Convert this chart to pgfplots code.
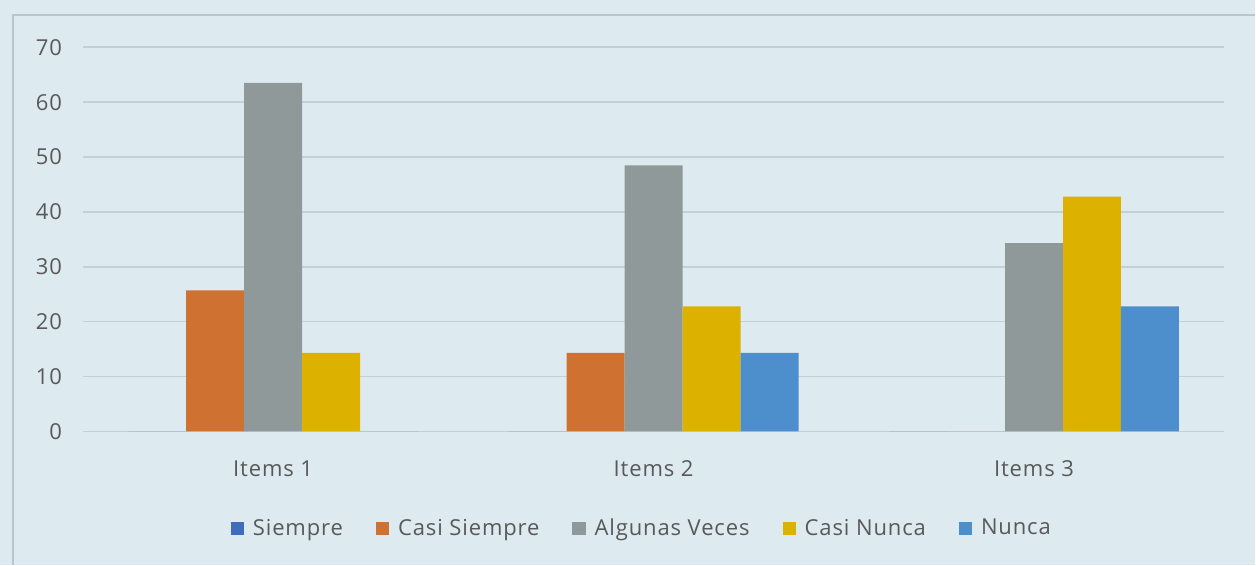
\documentclass[border=0pt]{standalone}
\usepackage{fontspec}
\setmainfont{Open Sans}[LetterSpace=4]
\usepackage{pgfplots}
\pgfplotsset{compat=1.18}

\definecolor{bgc}{HTML}{DDEAF0}
\definecolor{framec}{HTML}{B9C6CC}
\definecolor{gridc}{HTML}{C3D0D7}
\definecolor{txt}{HTML}{595959}
\definecolor{csiempre}{HTML}{3F6CBD}
\definecolor{ccasisiempre}{HTML}{CF7130}
\definecolor{calgunas}{HTML}{8F999A}
\definecolor{ccasinunca}{HTML}{DDB100}
\definecolor{cnunca}{HTML}{4D8FCC}

\begin{document}
\begin{tikzpicture}[x=0.5pt,y=0.5pt]
% background and frame (pixel units)
\fill[bgc] (0,0) rectangle (1256,565);
\draw[framec, line width=0.8pt] (13,0) -- (13,550) -- (1256,550);

\begin{axis}[
    at={(41.5pt,66.65pt)}, anchor=south west,
    scale only axis,
    width=571pt, height=192.2pt,
    ybar=0pt, bar width=29pt,
    xmin=-0.5, xmax=2.5,
    ymin=0, ymax=70,
    ytick={0,10,...,70},
    xtick=data,
    xticklabels={Items 1, Items 2, Items 3},
    major tick length=0pt,
    axis line style={draw=none},
    ymajorgrids,
    grid style={gridc, line width=0.8pt},
    /pgf/number format/assume math mode=true,
    tick label style={font=\fontsize{11}{13}\selectfont, text=txt},
    yticklabel style={xshift=-7pt},
    xticklabel style={yshift=-11pt},
    legend style={at={(0.4905,-0.253)}, anchor=center, draw=none, fill=none,
        font=\fontsize{11}{13}\selectfont, text=txt,
        legend columns=-1,
        /tikz/every odd column/.append style={column sep=2.5pt},
        /tikz/every even column/.append style={column sep=14.5pt}},
    legend image code/.code={\fill[#1] (0pt,-3.3pt) rectangle (6.6pt,3.3pt);},
    every axis plot/.append style={draw=none},
]
\addplot[fill=csiempre] coordinates {(0,0) (1,0) (2,0)};
\addlegendentry{Siempre}
\addplot[fill=ccasisiempre] coordinates {(0,25.7) (1,14.3) (2,0)};
\addlegendentry{Casi Siempre}
\addplot[fill=calgunas] coordinates {(0,63.5) (1,48.5) (2,34.3)};
\addlegendentry{Algunas Veces}
\addplot[fill=ccasinunca] coordinates {(0,14.3) (1,22.8) (2,42.8)};
\addlegendentry{Casi Nunca}
\addplot[fill=cnunca] coordinates {(0,0) (1,14.3) (2,22.8)};
\addlegendentry{Nunca}
\end{axis}
\end{tikzpicture}
\end{document}
